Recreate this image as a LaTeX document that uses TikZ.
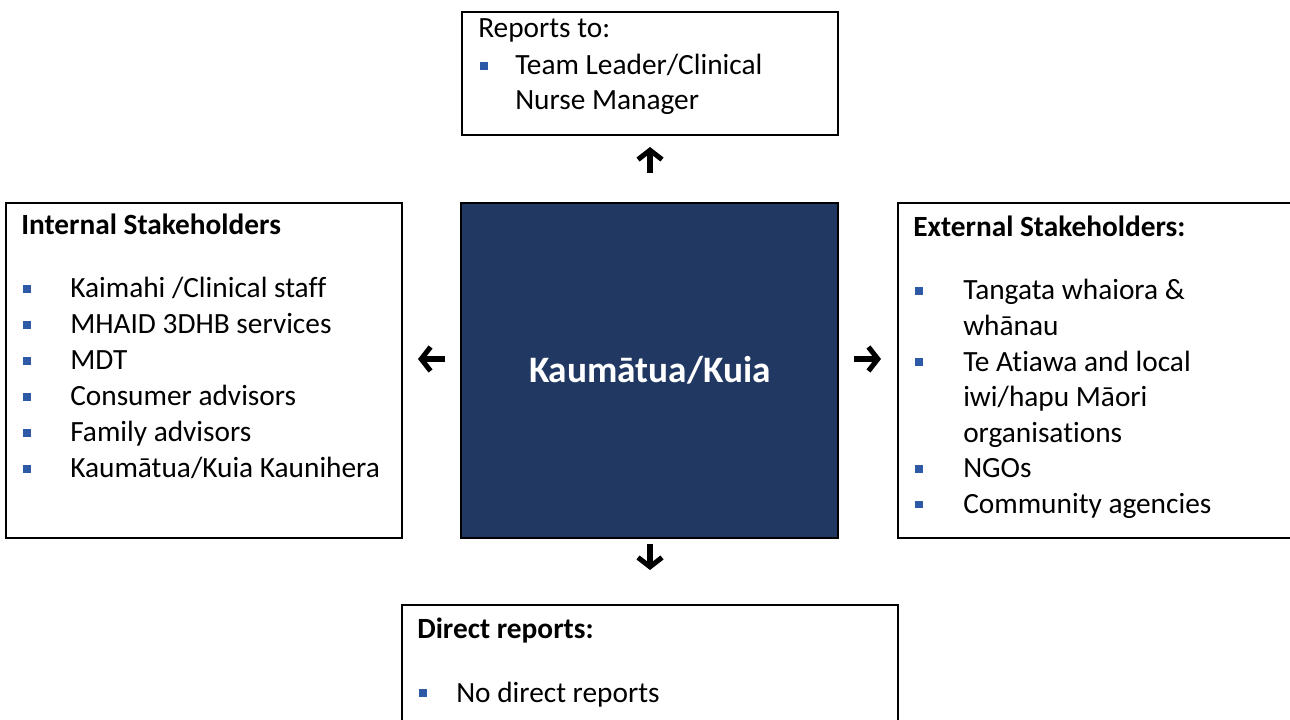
\documentclass[tikz,border=0pt]{standalone}
\usepackage{fontspec}
\setmainfont{Carlito}[Ligatures=NoCommon]
\usetikzlibrary{arrows.meta,fit}

\definecolor{navy}{RGB}{33,56,99}
\definecolor{bulblue}{RGB}{46,89,167}

\tikzset{
  box/.style={draw=black, line width=1.5pt, inner sep=0pt},
  bul/.style={fill=bulblue, inner sep=0pt, minimum size=5.6pt},
  txt/.style={anchor=base west, inner sep=0pt, font=\fontsize{22}{26}\selectfont},
  hdr/.style={txt, font=\fontsize{22}{26}\selectfont\bfseries},
  link/.style={line width=3.8pt, -{Straight Barb[length=7pt,width=18pt,line width=3.8pt]}}
}

\begin{document}
\begin{tikzpicture}[x=0.75pt,y=-0.75pt]

\useasboundingbox (0,0) rectangle (1290,720);
\clip (0,0) rectangle (1290,720);

% boxes
\node[box, fit={(462,12) (838,135)}] (top) {};
\node[box, fill=navy, fit={(461,203) (838,538)}] (main) {};
\node[box, fit={(6,203) (402,538)}] (int) {};
\node[box, fit={(898,203) (1300,538)}] (ext) {};
\node[box, fit={(402,605) (898,730)}] (dir) {};

\node[anchor=base, inner sep=0pt, text=white, font=\fontsize{28}{34}\selectfont\bfseries] (role) at (650,383) {Kaumātua/Kuia};

% reports to
\node[txt] (rt) at (478,38) {Reports to:};
\node[bul] (b0) at (484,66) {};
\node[txt] (rt1) at (515,75) {Team Leader/Clinical};
\node[txt] (rt2) at (515,110) {Nurse Manager};

% internal
\node[hdr] (ih) at (21,235) {Internal Stakeholders};
\node[bul] (b1) at (27,289) {};
\node[bul] (b2) at (27,325) {};
\node[bul] (b3) at (27,361) {};
\node[bul] (b4) at (27,397) {};
\node[bul] (b5) at (27,433) {};
\node[bul] (b6) at (27,469) {};
\node[txt] (i1) at (70,298) {Kaimahi /Clinical staff};
\node[txt] (i2) at (70,334) {MHAID 3DHB services};
\node[txt] (i3) at (70,370) {MDT};
\node[txt] (i4) at (70,406) {Consumer advisors};
\node[txt] (i5) at (70,442) {Family advisors};
\node[txt] (i6) at (70,478) {Kaumātua/Kuia Kaunihera};

% external
\node[hdr] (eh) at (913,237) {External Stakeholders:};
\node[bul] (b7) at (919,291) {};
\node[bul] (b8) at (919,362.2) {};
\node[bul] (b9) at (919,469) {};
\node[bul] (b10) at (919,504.6) {};
\node[txt] (e1) at (963,300) {Tangata whaiora \&};
\node[txt] (e2) at (963,335.6) {whānau};
\node[txt] (e3) at (963,371.2) {Te Atiawa and local};
\node[txt] (e4) at (963,406.8) {iwi/hapu Māori};
\node[txt] (e5) at (963,442.4) {organisations};
\node[txt] (e6) at (963,478) {NGOs};
\node[txt] (e7) at (963,513.6) {Community agencies};

% direct reports
\node[hdr] (dh) at (417,638) {Direct reports:};
\node[bul] (b11) at (423,693) {};
\node[txt] (d1) at (456,702) {No direct reports};

% arrows
\coordinate (upA) at (650,173);
\coordinate (upB) at (650,147);
\coordinate (dnA) at (650,544);
\coordinate (dnB) at (650,570);
\coordinate (lfA) at (445,359);
\coordinate (lfB) at (418,359);
\coordinate (rtA) at (854,359);
\coordinate (rtB) at (881,359);
\draw[link] (upA) -- (upB);
\draw[link] (dnA) -- (dnB);
\draw[link] (lfA) -- (lfB);
\draw[link] (rtA) -- (rtB);

\end{tikzpicture}
\end{document}
